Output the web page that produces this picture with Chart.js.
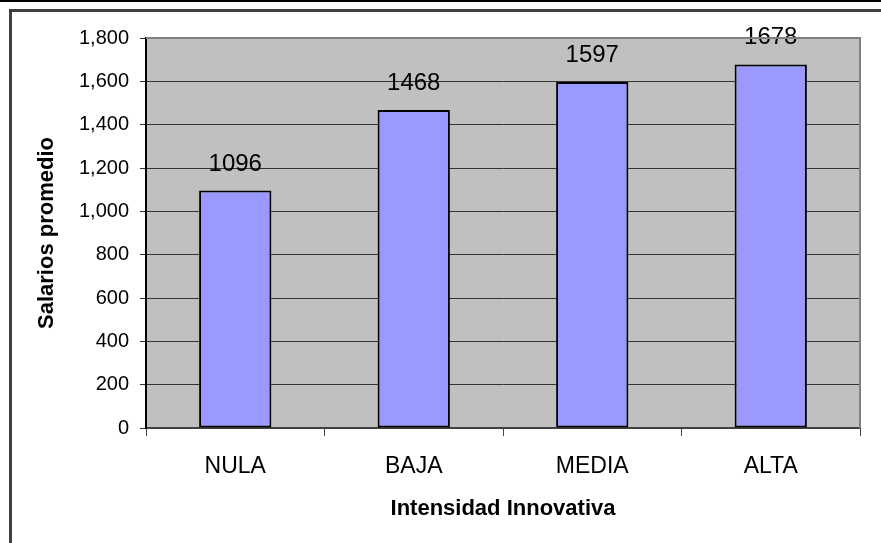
<!DOCTYPE html>
<html>
<head>
<meta charset="utf-8">
<script src="https://cdn.jsdelivr.net/npm/chart.js@4/dist/chart.umd.min.js"></script>
<style>
  html, body { margin: 0; padding: 0; background: #fff; }
  #wrap { width: 881px; height: 543px; position: relative; }
</style>
</head>
<body>
<div id="wrap"><canvas id="grafico" width="881" height="543"></canvas></div>
<script>
// Datos del gráfico
const categorias = ['NULA', 'BAJA', 'MEDIA', 'ALTA'];
const salarios = [1096, 1468, 1597, 1678];
const ejeY = { min: 0, max: 1800, paso: 200 };

// Marco y fondo del área de trazado
const marcoPlugin = {
  id: 'marco',
  beforeDraw(chart) {
    const ctx = chart.ctx;
    const a = chart.chartArea;
    ctx.save();
    ctx.fillStyle = '#fff';
    ctx.fillRect(0, 0, chart.width, chart.height);
    // linea superior
    ctx.fillStyle = '#000';
    ctx.fillRect(0, 0, chart.width, 2);
    // borde del recuadro
    ctx.fillStyle = '#404040';
    ctx.fillRect(9, 9, chart.width - 9, 3);
    ctx.fillRect(9, 9, 3, chart.height - 9);
    // fondo gris
    ctx.fillStyle = '#C0C0C0';
    ctx.fillRect(a.left, a.top, a.right - a.left, a.bottom - a.top);
    ctx.restore();
  },
  afterDraw(chart) {
    const ctx = chart.ctx;
    const a = chart.chartArea;
    ctx.save();
    ctx.strokeStyle = '#808080';
    ctx.lineWidth = 2;
    ctx.beginPath();
    ctx.moveTo(a.left, a.top);
    ctx.lineTo(a.right, a.top);
    ctx.lineTo(a.right, a.bottom);
    ctx.stroke();
    ctx.restore();
  }
};

// Etiquetas de valor sobre las barras
const etiquetasPlugin = {
  id: 'etiquetas',
  afterDatasetsDraw(chart) {
    const ctx = chart.ctx;
    const meta = chart.getDatasetMeta(0);
    ctx.save();
    ctx.font = '24px "Liberation Sans", Arial, sans-serif';
    ctx.fillStyle = '#000';
    ctx.textAlign = 'center';
    ctx.textBaseline = 'alphabetic';
    meta.data.forEach((barra, i) => {
      ctx.fillText(String(salarios[i]), barra.x, barra.y - 20);
    });
    ctx.restore();
  }
};

const fuente = '"Liberation Sans", Arial, sans-serif';

new Chart(document.getElementById('grafico'), {
  type: 'bar',
  data: {
    labels: categorias,
    datasets: [{
      data: salarios,
      backgroundColor: '#9999FF',
      borderColor: '#000',
      borderWidth: 2,
      borderSkipped: false,
      barPercentage: 0.405,
      categoryPercentage: 1
    }]
  },
  options: {
    responsive: false,
    animation: false,
    devicePixelRatio: 1,
    layout: { padding: { left: 0, top: 38, right: 21, bottom: 0 } },
    plugins: {
      legend: { display: false },
      tooltip: { enabled: false }
    },
    scales: {
      x: {
        afterFit(scale) { scale.height = 115; },
        grid: {
          offset: true,
          drawOnChartArea: false,
          drawTicks: true,
          tickLength: 8,
          color: '#404040',
          lineWidth: 1
        },
        border: { color: '#404040', width: 2 },
        ticks: {
          color: '#000',
          padding: 17,
          font: { family: fuente, size: 23 }
        },
        title: {
          display: true,
          text: 'Intensidad Innovativa',
          color: '#000',
          font: { family: fuente, size: 22, weight: 'bold' },
          padding: { top: 0, bottom: 21 }
        }
      },
      y: {
        min: ejeY.min,
        max: ejeY.max,
        afterFit(scale) { scale.width = 146; },
        grid: {
          color: '#333',
          lineWidth: 1,
          tickLength: 6
        },
        border: { color: '#000', width: 2 },
        ticks: {
          stepSize: ejeY.paso,
          color: '#000',
          padding: 11,
          font: { family: fuente, size: 20 },
          callback: v => v.toLocaleString('en-US')
        },
        title: {
          display: true,
          text: 'Salarios promedio',
          color: '#000',
          font: { family: fuente, size: 22, weight: 'bold' },
          padding: { top: 34, bottom: 0 }
        }
      }
    }
  },
  plugins: [marcoPlugin, etiquetasPlugin]
});
</script>
</body>
</html>
